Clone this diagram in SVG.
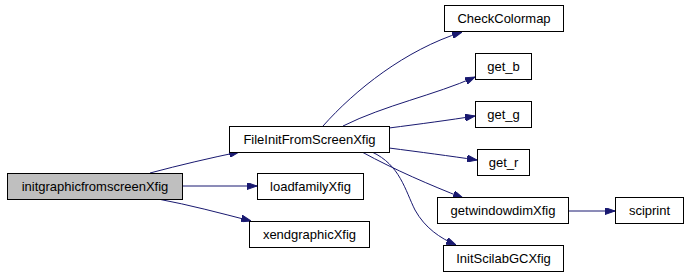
<svg xmlns="http://www.w3.org/2000/svg" width="687" height="274" viewBox="0 0 687 274">
<style>
.n rect{fill:#ffffff;stroke:#000000;stroke-width:1}
.n.root rect{fill:#bfbfbf}
.n text{font-family:"Liberation Sans",Arial,sans-serif;font-size:13px;fill:#000000;text-anchor:middle}
.e path{fill:none;stroke:#191970;stroke-width:1}
</style>
<defs>
<marker id="ah" viewBox="0 0 10 7" refX="10" refY="3.5" markerWidth="10" markerHeight="7" markerUnits="userSpaceOnUse" orient="auto">
<path d="M0,0 L10,3.5 L0,7 Z" fill="#191970" stroke="#191970"/>
</marker>
</defs>
<rect width="687" height="274" fill="#ffffff"/>
<g id="edges" class="e">
<path d="M150,173 C180,165 210,158 239,152" marker-end="url(#ah)"/>
<path d="M182,186 L257,186" marker-end="url(#ah)"/>
<path d="M158,199 C190,205 220,213 251,221" marker-end="url(#ah)"/>
<path d="M323,126 C355,90 405,50 462,32" marker-end="url(#ah)"/>
<path d="M343,126 C385,105 435,95 475,77" marker-end="url(#ah)"/>
<path d="M389,128 C420,124 450,120 475,116" marker-end="url(#ah)"/>
<path d="M389,148 C420,152 450,156 477,160" marker-end="url(#ah)"/>
<path d="M362,152 C395,170 430,185 463,198" marker-end="url(#ah)"/>
<path d="M372,152 C400,165 405,190 415,210 C425,228 440,238 456,245" marker-end="url(#ah)"/>
<path d="M568,211 L615,211" marker-end="url(#ah)"/>
</g>
<g id="initgraphicfromscreenXfig" class="n root"><rect x="7.5" y="173.5" width="175" height="26"/><text x="95" y="191">initgraphicfromscreenXfig</text></g>
<g id="FileInitFromScreenXfig" class="n"><rect x="229.5" y="126.5" width="160" height="26"/><text x="309.5" y="144">FileInitFromScreenXfig</text></g>
<g id="loadfamilyXfig" class="n"><rect x="257.5" y="173.5" width="106" height="26"/><text x="310.5" y="191">loadfamilyXfig</text></g>
<g id="xendgraphicXfig" class="n"><rect x="249.5" y="221.5" width="120" height="26"/><text x="309.5" y="239">xendgraphicXfig</text></g>
<g id="CheckColormap" class="n"><rect x="444.5" y="5.5" width="119" height="26"/><text x="504" y="23">CheckColormap</text></g>
<g id="get_b" class="n"><rect x="475.5" y="53.5" width="56" height="26"/><text x="503.5" y="71">get_b</text></g>
<g id="get_g" class="n"><rect x="475.5" y="101.5" width="56" height="26"/><text x="503.5" y="119">get_g</text></g>
<g id="get_r" class="n"><rect x="477.5" y="149.5" width="52" height="26"/><text x="503.5" y="167">get_r</text></g>
<g id="getwindowdimXfig" class="n"><rect x="437.5" y="197.5" width="131" height="26"/><text x="503" y="215">getwindowdimXfig</text></g>
<g id="sciprint" class="n"><rect x="615.5" y="197.5" width="68" height="26"/><text x="649.5" y="215">sciprint</text></g>
<g id="InitScilabGCXfig" class="n"><rect x="443.5" y="245.5" width="120" height="26"/><text x="503.5" y="263">InitScilabGCXfig</text></g>
</svg>
